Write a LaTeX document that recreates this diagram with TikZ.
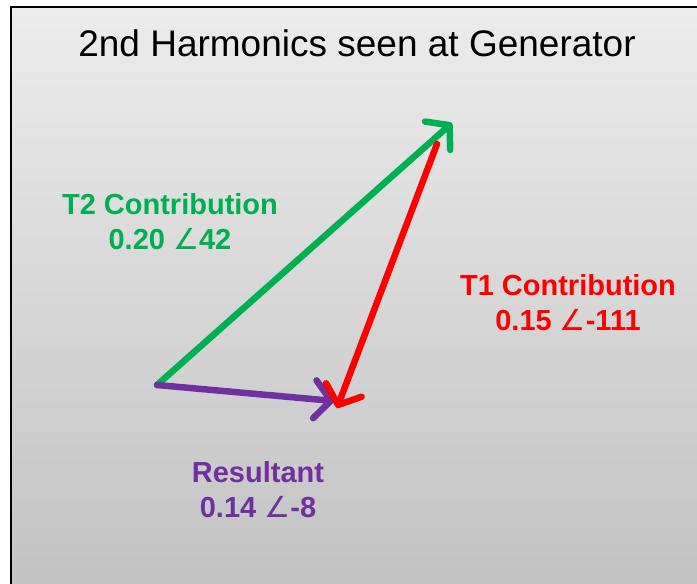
\documentclass[tikz,border=0pt]{standalone}
\usepackage{fontspec}
\setmainfont{Liberation Sans}
\newfontfamily\symfont{DejaVu Sans}
\usetikzlibrary{arrows.meta}
\definecolor{tgreen}{RGB}{0,176,80}
\definecolor{tred}{RGB}{255,0,0}
\definecolor{tpurple}{RGB}{112,48,160}
\definecolor{bgtop}{RGB}{236,236,236}
\definecolor{bgbot}{RGB}{194,194,194}
\newcommand{\ang}{{\symfont\mdseries ∠}}
\tikzset{
  vec/.style={line width=6.5pt, line cap=round, -{Straight Barb[length=16pt,width=38pt,line width=0pt 1,round]}},
  lbl/.style={font=\bfseries\fontsize{29}{35}\selectfont, align=center, inner sep=0pt, anchor=base},
}
\begin{document}
\begin{tikzpicture}[x=1pt,y=-1pt]
\useasboundingbox (0,0) rectangle (697,584);
\fill[white] (0,0) rectangle (697,584);
\shade[top color=bgtop, bottom color=bgbot] (10.5,7) rectangle (700,590);
\draw[black, line width=2pt] (10.5,590) -- (10.5,7) -- (700,7);
\node[font=\fontsize{37}{44}\selectfont, anchor=base, inner sep=0pt] (title) at (357,56) {2nd Harmonics seen at Generator};
\coordinate (O) at (157,385);
\coordinate (G) at (452,123);
\coordinate (Rt) at (437,144);
\coordinate (R) at (337,408);
\coordinate (P) at (334,401);
\draw[vec, tgreen] (O) -- (G);
\draw[vec, tpurple] (O) -- (P);
\draw[vec, tred] (Rt) -- (R);
\node[lbl, text=tgreen] (t2) at (170,249) {T2 Contribution\\0.20 \ang42};
\node[lbl, text=tred] (t1) at (568,330) {T1 Contribution\\0.15 \ang-111};
\node[lbl, text=tpurple] (res) at (258,517) {Resultant\\0.14 \ang-8};
\end{tikzpicture}
\end{document}
